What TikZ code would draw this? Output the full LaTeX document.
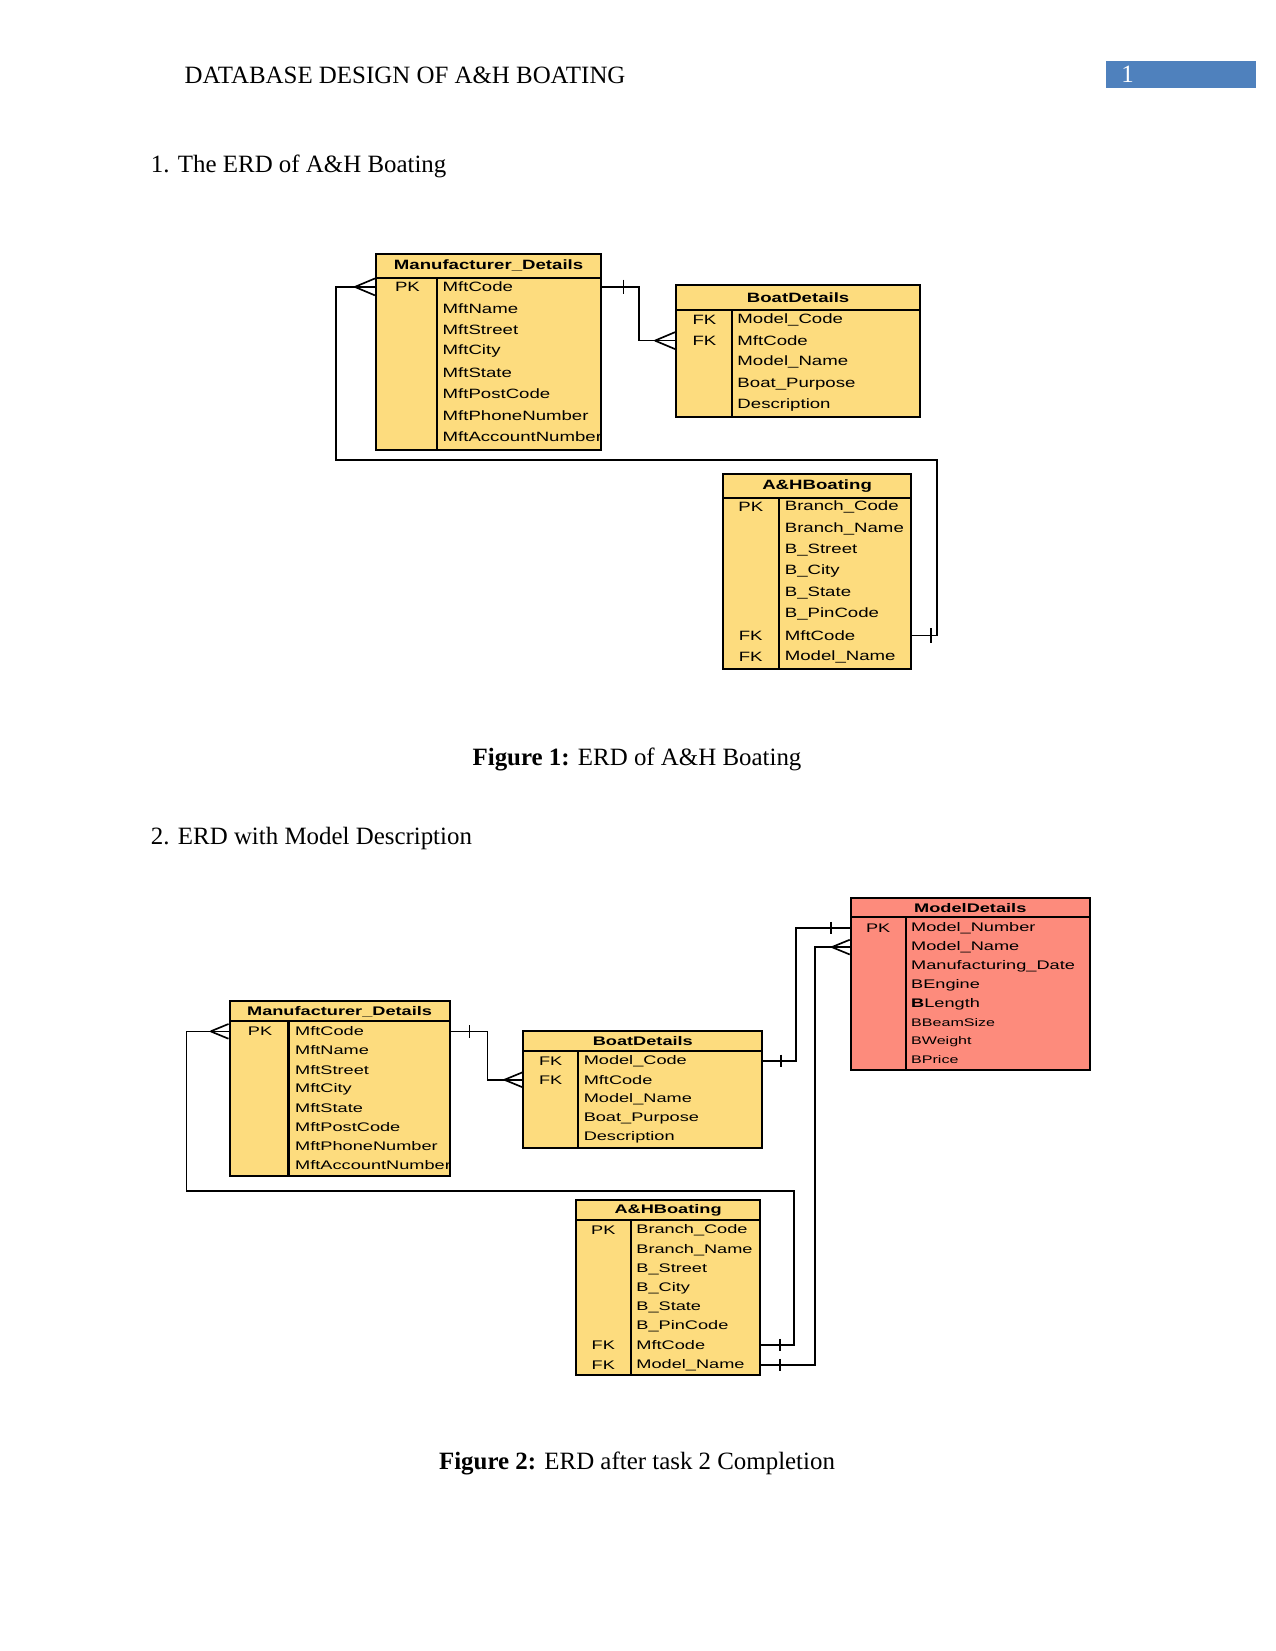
\documentclass[tikz,border=0pt]{standalone}
\usepackage{fontspec}
\setmainfont{Liberation Serif}
\newfontfamily\erdA[FakeStretch=1.38]{Liberation Sans}
\newfontfamily\erdB[FakeStretch=1.46]{Liberation Sans}
\usepackage{xcolor}
\usetikzlibrary{calc,fit}
\definecolor{erdyellow}{RGB}{253,220,126}
\definecolor{erdsalmon}{RGB}{253,139,124}
\definecolor{pageblue}{RGB}{79,129,189}

\begin{document}
\begin{tikzpicture}[x=0.5054bp,y=-0.5054bp,
	tbl/.style={draw,line width=1pt,fill=erdyellow,inner sep=0pt},
	hdr/.style={draw,line width=1pt,inner sep=0pt},
	hdrA/.style={inner sep=0pt,font={\erdA\fontsize{6.5}{7.5}\selectfont\bfseries}},
	hdrB/.style={inner sep=0pt,font={\erdB\fontsize{6}{7}\selectfont\bfseries}},
	keyA/.style={inner sep=0pt,font={\erdA\fontsize{6.5}{7.5}\selectfont}},
	attrA/.style={inner sep=0pt,anchor=west,font={\erdA\fontsize{6.5}{7.5}\selectfont}},
	keyB/.style={inner sep=0pt,font={\erdB\fontsize{6}{7}\selectfont}},
	attrB/.style={inner sep=0pt,anchor=west,font={\erdB\fontsize{6}{7}\selectfont}},
	rel/.style={line width=0.8pt}]

	\useasboundingbox (0,0) rectangle (1211,1568);

	% page heading
	\node[anchor=base west,inner sep=0pt,font=\fontsize{12}{14}\selectfont] (title) at (175,79) {DATABASE DESIGN OF A\&H BOATING};
	\node[fill=pageblue,inner sep=0pt,fit={(1050,58) (1193,84)}] (pgbox) {};
	\node[text=white,inner sep=0pt,font=\fontsize{12}{14}\selectfont] (pgnum) at (1071,71) {1};
	\node[anchor=base west,inner sep=0pt,font=\fontsize{12}{14}\selectfont] (sec1) at (143,164) {1. The ERD of A\&H Boating};

	% figure 1
	\node[tbl,fit={(357,241) (571,427)}] (mfa) {};
	\node[hdr,fit={(357,241) (571,264)}] (mfah) {};
	\node[hdrA] (mfat) at (mfah.center) {Manufacturer\_Details};
	\draw[line width=1pt] (415,264) -- (415,427);
	\node[keyA] (mfa1k) at (387,272) {PK};
	\node[attrA] (mfa1) at (420,272.5) {MftCode};
	\node[attrA] (mfa2) at (420,293) {MftName};
	\node[attrA] (mfa3) at (420,313.5) {MftStreet};
	\node[attrA] (mfa4) at (420,333.5) {MftCity};
	\node[attrA] (mfa5) at (420,353.5) {MftState};
	\node[attrA] (mfa6) at (420,374) {MftPostCode};
	\node[attrA] (mfa7) at (420,394.5) {MftPhoneNumber};
	\node[attrA] (mfa8) at (420,414.5) {MftAccountNumber};

	\node[tbl,fit={(642,271) (874,396)}] (boa) {};
	\node[hdr,fit={(642,271) (874,294)}] (boah) {};
	\node[hdrA] (boat) at (boah.center) {BoatDetails};
	\draw[line width=1pt] (695,294) -- (695,396);
	\node[keyA] (boa1k) at (669,303.5) {FK};
	\node[keyA] (boa2k) at (669,323.5) {FK};
	\node[attrA] (boa1) at (700,303.5) {Model\_Code};
	\node[attrA] (boa2) at (700,323.5) {MftCode};
	\node[attrA] (boa3) at (700,344) {Model\_Name};
	\node[attrA] (boa4) at (700,364.5) {Boat\_Purpose};
	\node[attrA] (boa5) at (700,384.5) {Description};

	\node[tbl,fit={(687,450) (865,635)}] (aha) {};
	\node[hdr,fit={(687,450) (865,473)}] (ahah) {};
	\node[hdrA] (ahat) at (ahah.center) {A\&HBoating};
	\draw[line width=1pt] (740,473) -- (740,635);
	\node[keyA] (aha1k) at (713,481.5) {PK};
	\node[keyA] (aha7k) at (713,603.5) {FK};
	\node[keyA] (aha8k) at (713,623.5) {FK};
	\node[attrA] (aha1) at (745,481.5) {Branch\_Code};
	\node[attrA] (aha2) at (745,502) {Branch\_Name};
	\node[attrA] (aha3) at (745,522.5) {B\_Street};
	\node[attrA] (aha4) at (745,542.5) {B\_City};
	\node[attrA] (aha5) at (745,563) {B\_State};
	\node[attrA] (aha6) at (745,583.5) {B\_PinCode};
	\node[attrA] (aha7) at (745,603.5) {MftCode};
	\node[attrA] (aha8) at (745,623.5) {Model\_Name};

	\draw[rel] (mfa.east |- mfa1) -- ++(35,0) |- (boa.west |- boa2);
	\draw[rel] ($(mfa.east |- mfa1)+(20,-7)$) -- ++(0,14);
	\draw[rel] ($(boa.west |- boa2)+(-19,0)$) -- ++(19,-8) ++(-19,8) -- ++(19,8);
	\draw[rel] (mfa.west |- mfa1) -- ++(-37,0) -- ++(0,164.5) -- ++(571,0) |- (aha.east |- aha7);
	\draw[rel] ($(mfa.west |- mfa1)+(-19,0)$) -- ++(19,-8) ++(-19,8) -- ++(19,8);
	\draw[rel] ($(aha.east |- aha7)+(18,-7)$) -- ++(0,14);

	\node[inner sep=0pt,font=\fontsize{12}{14}\selectfont] (cap1) at (605,721) {\textbf{Figure 1:} ERD of A\&H Boating};
	\node[anchor=base west,inner sep=0pt,font=\fontsize{12}{14}\selectfont] (sec2) at (143,802) {2. ERD with Model Description};

	% figure 2
	\node[tbl,fit={(218,951) (427,1117)}] (mfb) {};
	\node[hdr,fit={(218,951) (427,970)}] (mfbh) {};
	\node[hdrB] (mfbt) at (mfbh.center) {Manufacturer\_Details};
	\draw[line width=1pt] (274,970) -- (274,1117);
	\node[keyB] (mfb1k) at (247,979.5) {PK};
	\node[attrB] (mfb1) at (280,979.5) {MftCode};
	\node[attrB] (mfb2) at (280,997.5) {MftName};
	\node[attrB] (mfb3) at (280,1016) {MftStreet};
	\node[attrB] (mfb4) at (280,1034.5) {MftCity};
	\node[attrB] (mfb5) at (280,1052.5) {MftState};
	\node[attrB] (mfb6) at (280,1070.5) {MftPostCode};
	\node[attrB] (mfb7) at (280,1088.5) {MftPhoneNumber};
	\node[attrB] (mfb8) at (280,1106.5) {MftAccountNumber};

	\node[tbl,fit={(497,979) (724,1090)}] (bob) {};
	\node[hdr,fit={(497,979) (724,998)}] (bobh) {};
	\node[hdrB] (bobt) at (bobh.center) {BoatDetails};
	\draw[line width=1pt] (549,998) -- (549,1090);
	\node[keyB] (bob1k) at (523,1007.5) {FK};
	\node[keyB] (bob2k) at (523,1025.5) {FK};
	\node[attrB] (bob1) at (554,1007.5) {Model\_Code};
	\node[attrB] (bob2) at (554,1025.5) {MftCode};
	\node[attrB] (bob3) at (554,1044) {Model\_Name};
	\node[attrB] (bob4) at (554,1062.5) {Boat\_Purpose};
	\node[attrB] (bob5) at (554,1080.5) {Description};

	\node[tbl,fit={(547,1140) (722,1306)}] (ahb) {};
	\node[hdr,fit={(547,1140) (722,1159)}] (ahbh) {};
	\node[hdrB] (ahbt) at (ahbh.center) {A\&HBoating};
	\draw[line width=1pt] (599,1159) -- (599,1306);
	\node[keyB] (ahb1k) at (573,1168.5) {PK};
	\node[keyB] (ahb7k) at (573,1277.5) {FK};
	\node[keyB] (ahb8k) at (573,1296.5) {FK};
	\node[attrB] (ahb1) at (604,1168.5) {Branch\_Code};
	\node[attrB] (ahb2) at (604,1187) {Branch\_Name};
	\node[attrB] (ahb3) at (604,1205.5) {B\_Street};
	\node[attrB] (ahb4) at (604,1223.5) {B\_City};
	\node[attrB] (ahb5) at (604,1241.5) {B\_State};
	\node[attrB] (ahb6) at (604,1259.5) {B\_PinCode};
	\node[attrB] (ahb7) at (604,1277.5) {MftCode};
	\node[attrB] (ahb8) at (604,1296.5) {Model\_Name};

	\node[tbl,fill=erdsalmon,fit={(808,853) (1035,1016)}] (mdb) {};
	\node[hdr,fit={(808,853) (1035,871)}] (mdbh) {};
	\node[hdrB] (mdbt) at (mdbh.center) {ModelDetails};
	\draw[line width=1pt] (860,871) -- (860,1016);
	\node[keyB] (mdb1k) at (834,881.5) {PK};
	\node[attrB] (mdb1) at (865,881.5) {Model\_Number};
	\node[attrB] (mdb2) at (865,899.5) {Model\_Name};
	\node[attrB] (mdb3) at (865,917.5) {Manufacturing\_Date};
	\node[attrB] (mdb4) at (865,935.5) {BEngine};
	\node[attrB] (mdb5) at (865,953.5) {\textbf{B}Length};
	\node[attrB,font={\erdB\fontsize{5.3}{6}\selectfont}] (mdb6) at (865,971.5) {BBeamSize};
	\node[attrB,font={\erdB\fontsize{5.3}{6}\selectfont}] (mdb7) at (865,989.5) {BWeight};
	\node[attrB,font={\erdB\fontsize{5.3}{6}\selectfont}] (mdb8) at (865,1006.5) {BPrice};

	\draw[rel] (mfb.east |- mfb1) -- ++(35,0) |- (bob.west |- bob2);
	\draw[rel] ($(mfb.east |- mfb1)+(18,-6)$) -- ++(0,12);
	\draw[rel] ($(bob.west |- bob2)+(-17,0)$) -- ++(17,-7) ++(-17,7) -- ++(17,7);
	\draw[rel] (mfb.west |- mfb1) -- ++(-40,0) -- ++(0,151.5) -- ++(577,0) |- (ahb.east |- ahb7);
	\draw[rel] ($(mfb.west |- mfb1)+(-17,0)$) -- ++(17,-7) ++(-17,7) -- ++(17,7);
	\draw[rel] ($(ahb.east |- ahb7)+(18,-6)$) -- ++(0,12);
	\draw[rel] (bob.east |- bob1) -- ++(31,0) |- (mdb.west |- mdb1);
	\draw[rel] ($(bob.east |- bob1)+(17,-6)$) -- ++(0,12);
	\draw[rel] ($(mdb.west |- mdb1)+(-18,-6)$) -- ++(0,12);
	\draw[rel] (ahb.east |- ahb8) -- ++(51,0) |- (mdb.west |- mdb2);
	\draw[rel] ($(ahb.east |- ahb8)+(18,-6)$) -- ++(0,12);
	\draw[rel] ($(mdb.west |- mdb2)+(-17,0)$) -- ++(17,-7) ++(-17,7) -- ++(17,7);

	\node[inner sep=0pt,font=\fontsize{12}{14}\selectfont] (cap2) at (605,1390) {\textbf{Figure 2:} ERD after task 2 Completion};

\end{tikzpicture}
\end{document}
